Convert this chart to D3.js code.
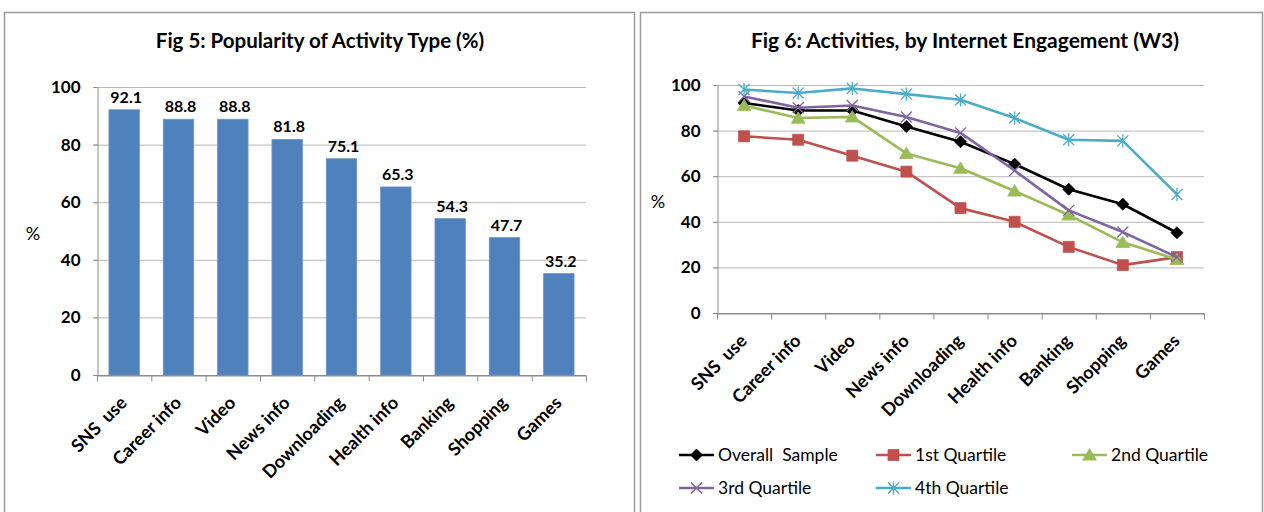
<!DOCTYPE html>
<html><head><meta charset="utf-8">
<script src="https://cdn.jsdelivr.net/npm/d3@7"></script>
<style>
body{margin:0;background:#fff}
text{font-family:Lato,"Open Sans",sans-serif;fill:#000}
</style>
</head><body>
<svg id="c" width="1264" height="512"></svg>
<script>
// ---------- data ----------
const categories = ["SNS  use","Career info","Video","News info","Downloading","Health info","Banking","Shopping","Games"];
const popularity = [92.1,88.8,88.8,81.8,75.1,65.3,54.3,47.7,35.2];
const overallSample = [92.1,88.8,88.8,81.8,75.1,65.3,54.3,47.7,35.2];
const quartile1 = [77.5,76,69,62,46,40,29,21,24.5];
const quartile2 = [91,85.5,86,70,63.5,53.5,43,31,23.5];
const quartile3 = [95,90,91,86,79,62.5,45,35.5,24.5];
const quartile4 = [98,96.5,98.5,96,93.5,85.5,76,75.5,52];
const seriesNames = ["Overall  Sample","1st Quartile","2nd Quartile","3rd Quartile","4th Quartile"];
const yTicks = [0,20,40,60,80,100];
const titleLeft = "Fig 5: Popularity of Activity Type (%)";
const titleRight = "Fig 6: Activities, by Internet Engagement (W3)";

const svg = d3.select("#c");
const GRID = "#b9b9b9", AXIS = "#8c8c8c";

// panel borders
svg.append("rect").attr("x",4.5).attr("y",12.5).attr("width",630).attr("height",520)
  .attr("fill","none").attr("stroke","#9a9a9a").attr("stroke-width",1.5);
svg.append("rect").attr("x",640.5).attr("y",12.5).attr("width",622).attr("height",520)
  .attr("fill","none").attr("stroke","#9a9a9a").attr("stroke-width",1.5);

function frame(g, x0, x1, y, idx, title, titleX, titleSize, pctX, pctY) {
  g.append("g").selectAll("line").data(yTicks).join("line")
    .attr("x1",x0-4).attr("x2",x1).attr("y1",d=>y(d)+0.5).attr("y2",d=>y(d)+0.5)
    .attr("stroke",d=>d===0?AXIS:GRID).attr("stroke-width",1);
  const ya = g.append("g").attr("transform",`translate(${x0+0.5},0)`)
    .call(d3.axisLeft(y).tickValues(yTicks).tickSize(4).tickSizeOuter(0).tickPadding(13));
  ya.select(".domain").attr("stroke",AXIS);
  ya.selectAll(".tick line").attr("stroke",AXIS);
  ya.selectAll(".tick text").style("font-family","Lato").style("font-size","17px").style("font-weight","bold").attr("fill","#000");
  const xa = g.append("g").attr("transform",`translate(0,${y(0)+0.5})`)
    .call(d3.axisBottom(idx).tickValues(d3.range(categories.length+1)).tickSize(6).tickSizeOuter(0).tickFormat(""));
  xa.select(".domain").attr("stroke",AXIS);
  xa.selectAll(".tick line").attr("stroke",AXIS);
  g.append("text").attr("x",titleX).attr("y",48).attr("text-anchor","middle")
    .style("font-size",titleSize+"px").style("font-weight","bold").text(title);
  g.append("text").attr("x",pctX).attr("y",pctY).attr("text-anchor","middle").attr("dy","0.35em")
    .style("font-size","18px").text("%");
}

function xLabels(g, x, yBase) {
  g.append("g").selectAll("text").data(categories).join("text")
    .attr("transform",d=>`translate(${x(d)+x.bandwidth()/2+4},${yBase+29}) rotate(-45)`)
    .attr("text-anchor","end")
    .style("font-size","18px").style("font-weight","bold").style("white-space","pre")
    .text(d=>d);
}

// ---------- left chart: bars ----------
{
  const g = svg.append("g");
  const x0 = 97, x1 = 586;
  const x = d3.scaleBand().domain(categories).range([x0,x1]).paddingInner(0.44).paddingOuter(0.22);
  const idx = d3.scaleLinear().domain([0,categories.length]).range([x0,x1]);
  const y = d3.scaleLinear().domain([0,100]).range([375,87]);
  frame(g, x0, x1, y, idx, titleLeft, 320, 20.5, 33, 234);
  g.append("g").selectAll("rect").data(popularity).join("rect")
    .attr("x",(d,i)=>x(categories[i])).attr("width",x.bandwidth())
    .attr("y",d=>y(d)).attr("height",d=>y(0)-y(d))
    .attr("fill","#4f81bd").attr("stroke","#6a95c9").attr("stroke-width",0.8);
  g.append("g").selectAll("text").data(popularity).join("text")
    .attr("x",(d,i)=>x(categories[i])+x.bandwidth()/2+2).attr("y",d=>y(d)-7)
    .attr("text-anchor","middle").style("font-size","16px").style("font-weight","bold")
    .text(d=>d.toFixed(1));
  xLabels(g, x, 375);
}

// ---------- right chart: lines ----------
{
  const g = svg.append("g");
  const x0 = 717, x1 = 1204;
  const x = d3.scaleBand().domain(categories).range([x0,x1]);
  const idx = d3.scaleLinear().domain([0,categories.length]).range([x0,x1]);
  const y = d3.scaleLinear().domain([0,100]).range([313,85]);
  frame(g, x0, x1, y, idx, titleRight, 965, 21, 658, 202);
  xLabels(g, x, 313);

  const series = [overallSample, quartile1, quartile2, quartile3, quartile4];
  const colors = ["#000000","#c0504d","#9bbb59","#8064a2","#4bacc6"];
  const markers = [
    s=>`M0,${-s}L${s},0L0,${s}L${-s},0Z`,
    s=>`M${-s},${-s}H${s}V${s}H${-s}Z`,
    s=>`M0,${-s*1.05}L${s*1.15},${s*0.85}L${-s*1.15},${s*0.85}Z`,
    s=>`M${-s},${-s}L${s},${s}M${-s},${s}L${s},${-s}`,
    s=>`M${-s},${-s}L${s},${s}M${-s},${s}L${s},${-s}M0,${-s*1.2}V${s*1.2}`
  ];
  const msize = [6,5.5,6,5.5,5.5];
  const filled = [true,true,true,false,false];
  const line = d3.line().x((d,i)=>x(categories[i])+x.bandwidth()/2).y(d=>y(d));

  function drawMarker(sel, k) {
    sel.attr("d",markers[k](msize[k]))
      .attr("fill",filled[k]?colors[k]:"none")
      .attr("stroke",colors[k]).attr("stroke-width",filled[k]?0.8:1.3);
  }

  series.forEach((vals,k)=>{
    const sg = g.append("g");
    sg.append("path").datum(vals).attr("d",line).attr("fill","none")
      .attr("stroke",colors[k]).attr("stroke-width",2.6).attr("stroke-linejoin","round");
    sg.selectAll("path.m").data(vals).join("path").attr("class","m")
      .attr("transform",(d,i)=>`translate(${x(categories[i])+x.bandwidth()/2},${y(d)})`)
      .call(drawMarker,k);
  });

  const legendPos = [[679,455],[876,455],[1072,455],[679,488],[876,488]];
  seriesNames.forEach((name,k)=>{
    const [lx,ly] = legendPos[k];
    const lg = g.append("g").attr("transform",`translate(${lx},${ly})`);
    lg.append("line").attr("x1",0).attr("x2",35).attr("y1",0).attr("y2",0)
      .attr("stroke",colors[k]).attr("stroke-width",2.6);
    lg.append("path").attr("transform","translate(17.5,0)").call(drawMarker,k);
    lg.append("text").attr("x",39).attr("y",0).attr("dy","0.35em")
      .style("font-size","17.5px").style("white-space","pre").text(name);
  });
}
</script>
</body></html>
